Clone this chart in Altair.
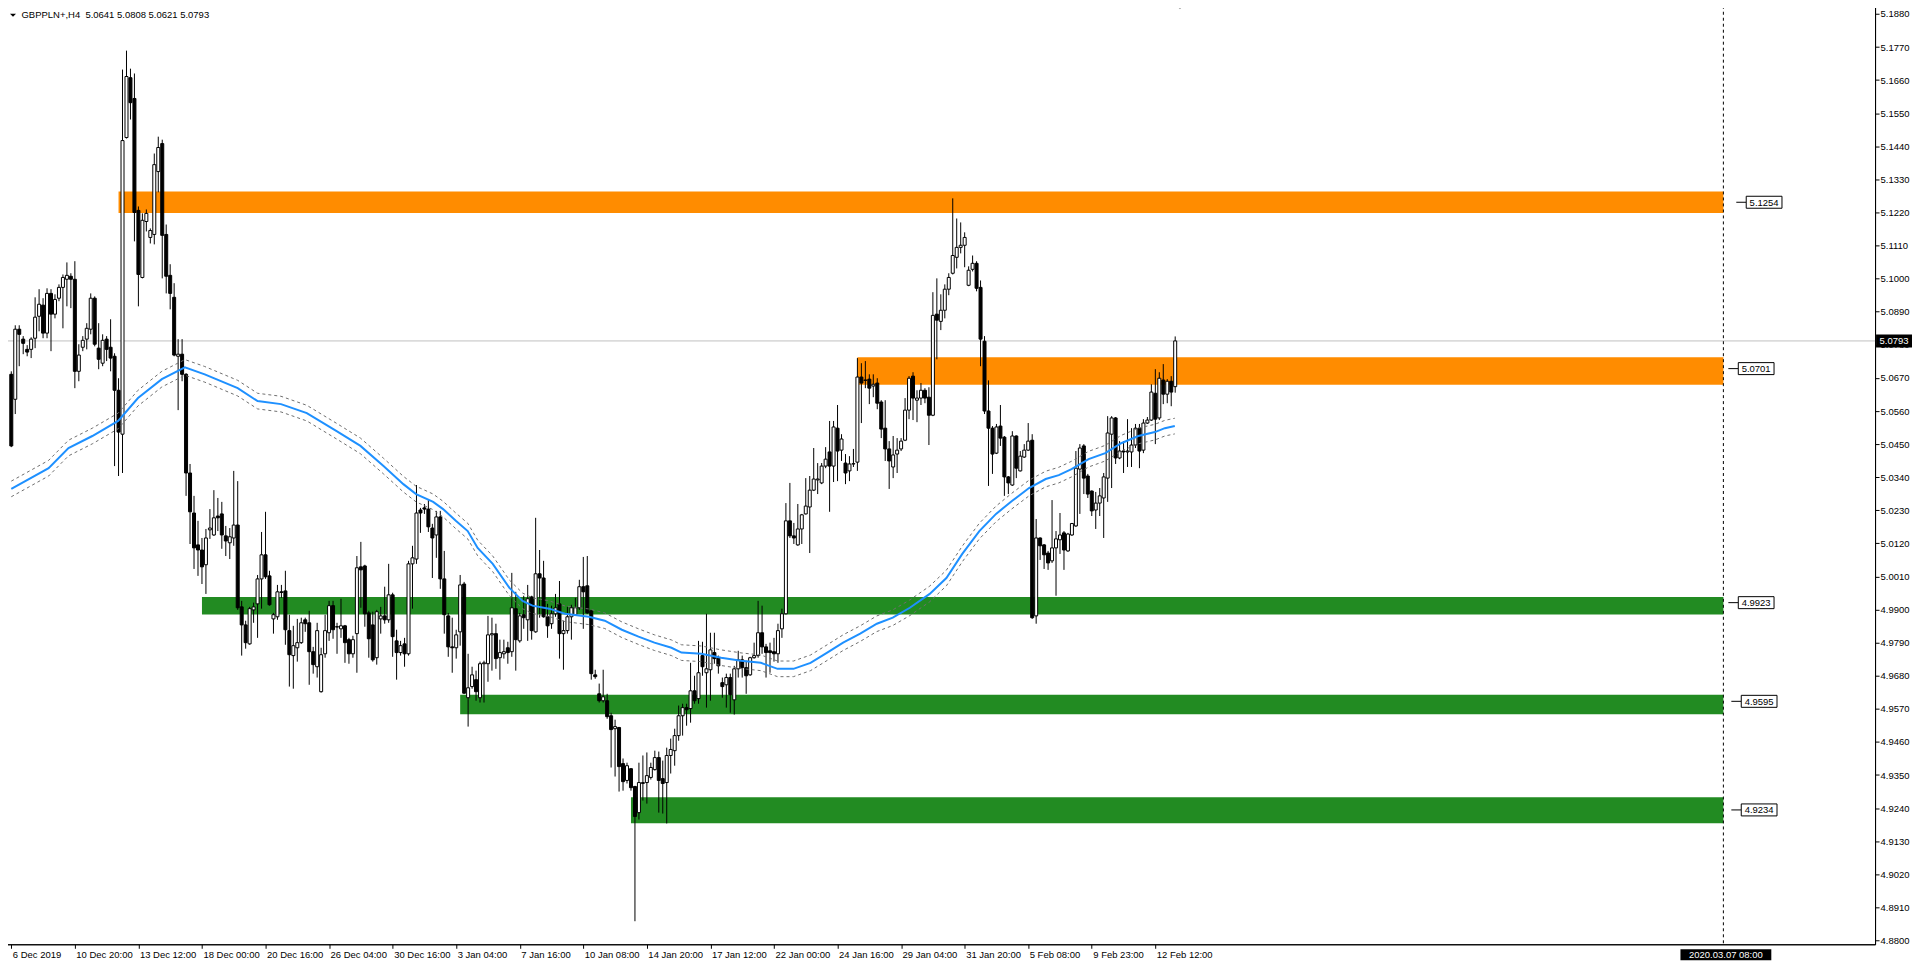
import altair as alt
import pandas as pd

# ---------------- data ----------------
symbol = "GBPPLN+,H4"

opens = [5.0682, 5.0599, 5.0832, 5.0799, 5.0765, 5.0765, 5.0802, 5.0875, 5.0912, 5.0819,
         5.0951, 5.0882, 5.0935, 5.0971, 5.0998, 5.1008, 5.0998, 5.0692, 5.0772, 5.0799,
         5.0832, 5.0935, 5.0769, 5.0719, 5.0799, 5.0772, 5.0742, 5.0629, 5.0483, 5.1469,
         5.1668, 5.1599, 5.1227, 5.1004, 5.1190, 5.1137, 5.1147, 5.1356, 5.1449, 5.1147,
         5.1011, 5.0938, 5.0742, 5.0749, 5.0682, 5.0354, 5.0221, 5.0115, 5.0098, 5.0049,
         5.0165, 5.0148, 5.0211, 5.0218, 5.0145, 5.0122, 5.0138, 5.0181, 4.9909, 4.9849,
         4.9786, 4.9899, 4.9919, 5.0002, 5.0082, 5.0012, 4.9869, 4.9876, 4.9959, 4.9962,
         4.9830, 4.9747, 4.9773, 4.9790, 4.9866, 4.9856, 4.9760, 4.9710, 4.9627, 4.9753,
         4.9823, 4.9913, 4.9843, 4.9836, 4.9846, 4.9800, 4.9753, 4.9820, 5.0042, 5.0045,
         4.9889, 4.9849, 4.9740, 4.9869, 4.9879, 4.9866, 4.9949, 4.9796, 4.9757, 4.9786,
         4.9753, 5.0052, 5.0068, 5.0231, 5.0238, 5.0234, 5.0171, 5.0148, 5.0208, 5.0002,
         4.9879, 4.9776, 4.9773, 4.9826, 4.9985, 4.9607, 4.9644, 4.9667, 4.9607, 4.9720,
         4.9720, 4.9816, 4.9820, 4.9740, 4.9753, 4.9773, 4.9760, 4.9903, 4.9796, 4.9883,
         4.9866, 4.9942, 4.9826, 5.0019, 5.0005, 4.9876, 4.9853, 4.9886, 4.9919, 4.9820,
         4.9830, 4.9876, 4.9883, 4.9906, 4.9976, 4.9979, 4.9896, 4.9683, 4.9620, 4.9597,
         4.9597, 4.9547, 4.9504, 4.9508, 4.9388, 4.9332, 4.9371, 4.9312, 4.9225, 4.9322,
         4.9325, 4.9342, 4.9368, 4.9408, 4.9338, 4.9325, 4.9415, 4.9431, 4.9481, 4.9547,
         4.9574, 4.9571, 4.9630, 4.9604, 4.9747, 4.9690, 4.9700, 4.9757, 4.9740, 4.9657,
         4.9650, 4.9674, 4.9600, 4.9703, 4.9733, 4.9707, 4.9683, 4.9740, 4.9747, 4.9823,
         4.9776, 4.9763, 4.9760, 4.9753, 4.9836, 4.9886, 5.0195, 5.0145, 5.0115, 5.0168,
         5.0218, 5.0241, 5.0297, 5.0331, 5.0321, 5.0377, 5.0424, 5.0377, 5.0503, 5.0430,
         5.0387, 5.0361, 5.0384, 5.0390, 5.0673, 5.0663, 5.0666, 5.0643, 5.0653, 5.0590,
         5.0503, 5.0434, 5.0374, 5.0417, 5.0434, 5.0463, 5.0563, 5.0676, 5.0596, 5.0603,
         5.0629, 5.0606, 5.0546, 5.0882, 5.0858, 5.0895, 5.0965, 5.1018, 5.1071, 5.1104,
         5.1111, 5.0978, 5.1031, 5.1051, 5.0971, 5.0792, 5.0560, 5.0503, 5.0420, 5.0510,
         5.0473, 5.0341, 5.0314, 5.0477, 5.0361, 5.0407, 5.0430, 5.0463, 4.9879, 5.0138,
         5.0115, 5.0088, 5.0062, 5.0105, 5.0132, 5.0155, 5.0095, 5.0148, 5.0178, 5.0367,
         5.0444, 5.0344, 5.0294, 5.0231, 5.0254, 5.0271, 5.0337, 5.0483, 5.0537, 5.0404,
         5.0427, 5.0424, 5.0424, 5.0447, 5.0503, 5.0430, 5.0520, 5.0530, 5.0619, 5.0537,
         5.0663, 5.0616, 5.0659, 5.0641]

highs = [5.0692, 5.0845, 5.0845, 5.0809, 5.0779, 5.0805, 5.0938, 5.0965, 5.0935, 5.0968,
         5.0965, 5.0948, 5.0981, 5.1014, 5.1054, 5.1018, 5.1058, 5.0782, 5.0809, 5.0852,
         5.0951, 5.0941, 5.0852, 5.0815, 5.0809, 5.0865, 5.0752, 5.0669, 5.1695, 5.1758,
         5.1698, 5.1682, 5.1240, 5.1217, 5.1230, 5.1167, 5.1416, 5.1472, 5.1462, 5.1180,
         5.1048, 5.0985, 5.0799, 5.0799, 5.0686, 5.0384, 5.0278, 5.0195, 5.0138, 5.0168,
         5.0234, 5.0297, 5.0271, 5.0258, 5.0178, 5.0171, 5.0361, 5.0327, 4.9929, 4.9863,
         4.9909, 4.9923, 5.0015, 5.0158, 5.0225, 5.0029, 4.9889, 4.9982, 4.9982, 5.0029,
         4.9883, 4.9846, 4.9869, 4.9873, 4.9873, 4.9896, 4.9776, 4.9856, 4.9773, 4.9883,
         4.9929, 4.9929, 4.9856, 4.9936, 4.9849, 4.9806, 4.9813, 5.0078, 5.0125, 5.0049,
         4.9896, 4.9893, 4.9899, 4.9909, 4.9976, 5.0052, 4.9956, 4.9833, 4.9796, 4.9806,
         5.0062, 5.0112, 5.0314, 5.0238, 5.0251, 5.0264, 5.0185, 5.0228, 5.0228, 5.0095,
         4.9889, 4.9873, 4.9833, 5.0015, 4.9992, 4.9753, 4.9710, 4.9697, 4.9727, 4.9730,
         4.9879, 4.9873, 4.9853, 4.9800, 4.9800, 4.9793, 5.0022, 4.9959, 4.9889, 4.9946,
         4.9982, 4.9946, 5.0205, 5.0098, 5.0062, 4.9919, 4.9913, 4.9952, 4.9995, 4.9863,
         4.9909, 4.9916, 4.9939, 4.9999, 5.0075, 5.0078, 4.9899, 4.9700, 4.9654, 4.9700,
         4.9620, 4.9557, 4.9534, 4.9510, 4.9405, 4.9391, 4.9373, 4.9314, 4.9391, 4.9415,
         4.9425, 4.9391, 4.9431, 4.9428, 4.9398, 4.9441, 4.9471, 4.9504, 4.9581, 4.9587,
         4.9587, 4.9723, 4.9680, 4.9796, 4.9793, 4.9886, 4.9823, 4.9823, 4.9747, 4.9674,
         4.9687, 4.9687, 4.9713, 4.9763, 4.9747, 4.9730, 4.9743, 4.9790, 4.9929, 4.9913,
         4.9786, 4.9790, 4.9806, 4.9853, 4.9903, 5.0254, 5.0321, 5.0188, 5.0251, 5.0218,
         5.0337, 5.0344, 5.0437, 5.0387, 5.0387, 5.0440, 5.0527, 5.0527, 5.0580, 5.0483,
         5.0417, 5.0410, 5.0434, 5.0736, 5.0719, 5.0726, 5.0682, 5.0682, 5.0669, 5.0596,
         5.0596, 5.0460, 5.0477, 5.0470, 5.0470, 5.0603, 5.0676, 5.0689, 5.0629, 5.0653,
         5.0636, 5.0639, 5.0955, 5.1001, 5.0948, 5.0981, 5.1018, 5.1267, 5.1200, 5.1187,
         5.1154, 5.1041, 5.1077, 5.1058, 5.0994, 5.0809, 5.0662, 5.0510, 5.0517, 5.0580,
         5.0477, 5.0344, 5.0493, 5.0479, 5.0427, 5.0450, 5.0520, 5.0483, 5.0201, 5.0140,
         5.0118, 5.0095, 5.0264, 5.0161, 5.0221, 5.0161, 5.0155, 5.0188, 5.0427, 5.0450,
         5.0450, 5.0351, 5.0296, 5.0291, 5.0304, 5.0354, 5.0543, 5.0543, 5.0540, 5.0460,
         5.0460, 5.0533, 5.0503, 5.0517, 5.0517, 5.0533, 5.0540, 5.0649, 5.0699, 5.0689,
         5.0716, 5.0666, 5.0676, 5.0808]

lows = [5.0440, 5.0550, 5.0709, 5.0749, 5.0742, 5.0736, 5.0769, 5.0825, 5.0802, 5.0802,
        5.0759, 5.0868, 5.0925, 5.0835, 5.0908, 5.0902, 5.0636, 5.0659, 5.0759, 5.0765,
        5.0815, 5.0775, 5.0699, 5.0709, 5.0726, 5.0692, 5.0377, 5.0344, 5.0354, 5.1466,
        5.1529, 5.1124, 5.0908, 5.1001, 5.1157, 5.1117, 5.1114, 5.1287, 5.1001, 5.0951,
        5.0898, 5.0742, 5.0563, 5.0659, 5.0278, 5.0118, 5.0035, 5.0012, 4.9985, 4.9952,
        5.0135, 5.0145, 5.0161, 5.0102, 5.0078, 5.0068, 5.0112, 4.9899, 4.9747, 4.9770,
        4.9783, 4.9856, 4.9806, 4.9903, 5.0002, 4.9913, 4.9820, 4.9866, 4.9939, 4.9783,
        4.9644, 4.9637, 4.9727, 4.9786, 4.9826, 4.9650, 4.9687, 4.9674, 4.9624, 4.9740,
        4.9796, 4.9803, 4.9753, 4.9806, 4.9723, 4.9720, 4.9740, 4.9690, 4.9906, 4.9843,
        4.9740, 4.9727, 4.9717, 4.9820, 4.9853, 4.9856, 4.9743, 4.9667, 4.9747, 4.9710,
        4.9747, 4.9903, 5.0052, 5.0155, 5.0218, 5.0158, 5.0005, 5.0072, 4.9969, 4.9820,
        4.9743, 4.9690, 4.9737, 4.9780, 4.9620, 4.9511, 4.9637, 4.9597, 4.9591, 4.9591,
        4.9660, 4.9697, 4.9703, 4.9667, 4.9737, 4.9720, 4.9743, 4.9697, 4.9790, 4.9836,
        4.9796, 4.9800, 4.9823, 4.9873, 4.9873, 4.9806, 4.9836, 4.9876, 4.9737, 4.9700,
        4.9820, 4.9800, 4.9879, 4.9899, 4.9836, 4.9886, 4.9667, 4.9670, 4.9591, 4.9591,
        4.9537, 4.9375, 4.9345, 4.9295, 4.9298, 4.9322, 4.9298, 4.8864, 4.9202, 4.9265,
        4.9255, 4.9335, 4.9365, 4.9225, 4.9222, 4.9189, 4.9355, 4.9381, 4.9464, 4.9481,
        4.9514, 4.9524, 4.9587, 4.9587, 4.9680, 4.9574, 4.9597, 4.9720, 4.9687, 4.9607,
        4.9574, 4.9557, 4.9551, 4.9674, 4.9674, 4.9620, 4.9680, 4.9737, 4.9740, 4.9753,
        4.9674, 4.9690, 4.9727, 4.9723, 4.9806, 4.9884, 5.0138, 5.0118, 5.0112, 5.0118,
        5.0216, 5.0088, 5.0294, 5.0284, 5.0317, 5.0370, 5.0225, 5.0324, 5.0327, 5.0394,
        5.0317, 5.0327, 5.0374, 5.0361, 5.0520, 5.0636, 5.0583, 5.0606, 5.0566, 5.0470,
        5.0394, 5.0301, 5.0337, 5.0354, 5.0427, 5.0460, 5.0533, 5.0530, 5.0523, 5.0580,
        5.0586, 5.0447, 5.0543, 5.0732, 5.0829, 5.0868, 5.0945, 5.1014, 5.1034, 5.1084,
        5.1038, 5.0975, 5.1024, 5.0958, 5.0709, 5.0550, 5.0311, 5.0351, 5.0417, 5.0444,
        5.0278, 5.0284, 5.0311, 5.0337, 5.0359, 5.0404, 5.0427, 4.9869, 4.9853, 5.0065,
        5.0035, 5.0032, 5.0055, 4.9946, 5.0085, 5.0032, 5.0092, 5.0145, 5.0175, 5.0218,
        5.0284, 5.0271, 5.0211, 5.0168, 5.0211, 5.0138, 5.0258, 5.0304, 5.0384, 5.0400,
        5.0354, 5.0374, 5.0374, 5.0437, 5.0370, 5.0420, 5.0517, 5.0527, 5.0450, 5.0530,
        5.0583, 5.0586, 5.0576, 5.0621]

closes = [5.0444, 5.0832, 5.0815, 5.0785, 5.0756, 5.0799, 5.0872, 5.0915, 5.0819, 5.0951,
          5.0882, 5.0931, 5.0971, 5.1004, 5.1011, 5.0998, 5.0692, 5.0746, 5.0795, 5.0835,
          5.0935, 5.0782, 5.0732, 5.0795, 5.0765, 5.0736, 5.0629, 5.0490, 5.1459, 5.1672,
          5.1585, 5.1220, 5.1014, 5.1194, 5.1217, 5.1160, 5.1379, 5.1436, 5.1144, 5.1008,
          5.0951, 5.0746, 5.0749, 5.0682, 5.0354, 5.0225, 5.0105, 5.0098, 5.0042, 5.0138,
          5.0171, 5.0205, 5.0205, 5.0148, 5.0128, 5.0142, 5.0181, 4.9906, 4.9849, 4.9790,
          4.9903, 4.9909, 5.0002, 5.0082, 5.0009, 4.9916, 4.9883, 4.9959, 4.9957, 4.9833,
          4.9750, 4.9780, 4.9790, 4.9856, 4.9853, 4.9760, 4.9717, 4.9830, 4.9750, 4.9830,
          4.9913, 4.9833, 4.9842, 4.9846, 4.9790, 4.9753, 4.9800, 5.0039, 5.0032, 4.9886,
          4.9803, 4.9733, 4.9893, 4.9879, 4.9866, 4.9949, 4.9810, 4.9757, 4.9780, 4.9753,
          5.0052, 5.0072, 5.0221, 5.0221, 5.0234, 5.0175, 5.0138, 5.0208, 5.0002, 4.9883,
          4.9776, 4.9773, 4.9816, 4.9982, 4.9622, 4.9640, 4.9683, 4.9627, 4.9720, 4.9723,
          4.9816, 4.9820, 4.9737, 4.9757, 4.9760, 4.9757, 4.9906, 4.9800, 4.9879, 4.9873,
          4.9936, 4.9830, 5.0019, 5.0005, 4.9876, 4.9846, 4.9886, 4.9906, 4.9820, 4.9830,
          4.9876, 4.9906, 4.9906, 4.9976, 4.9959, 4.9889, 4.9687, 4.9677, 4.9597, 4.9610,
          4.9544, 4.9501, 4.9511, 4.9378, 4.9328, 4.9381, 4.9308, 4.9212, 4.9325, 4.9325,
          4.9348, 4.9375, 4.9408, 4.9332, 4.9322, 4.9415, 4.9435, 4.9481, 4.9547, 4.9574,
          4.9567, 4.9630, 4.9597, 4.9690, 4.9710, 4.9703, 4.9766, 4.9737, 4.9713, 4.9644,
          4.9674, 4.9617, 4.9703, 4.9733, 4.9707, 4.9680, 4.9740, 4.9747, 4.9823, 4.9776,
          4.9757, 4.9757, 4.9753, 4.9830, 4.9886, 5.0195, 5.0145, 5.0138, 5.0168, 5.0215,
          5.0244, 5.0297, 5.0334, 5.0334, 5.0377, 5.0400, 5.0377, 5.0507, 5.0427, 5.0467,
          5.0354, 5.0384, 5.0385, 5.0673, 5.0653, 5.0662, 5.0636, 5.0649, 5.0586, 5.0500,
          5.0434, 5.0394, 5.0414, 5.0430, 5.0460, 5.0563, 5.0669, 5.0603, 5.0603, 5.0629,
          5.0603, 5.0546, 5.0878, 5.0862, 5.0895, 5.0965, 5.1004, 5.1077, 5.1104, 5.1111,
          5.1137, 5.1028, 5.1051, 5.0968, 5.0799, 5.0560, 5.0503, 5.0417, 5.0507, 5.0470,
          5.0341, 5.0321, 5.0477, 5.0370, 5.0410, 5.0430, 5.0460, 4.9873, 5.0138, 5.0112,
          5.0082, 5.0055, 5.0105, 5.0135, 5.0148, 5.0098, 5.0151, 5.0186, 5.0370, 5.0437,
          5.0337, 5.0284, 5.0228, 5.0254, 5.0278, 5.0341, 5.0487, 5.0537, 5.0404, 5.0427,
          5.0424, 5.0427, 5.0447, 5.0503, 5.0427, 5.0520, 5.0530, 5.0623, 5.0533, 5.0669,
          5.0616, 5.0659, 5.0623, 5.0793]

# moving average (blue) read at bar positions, with its dashed envelope
ma_bar = [0, 9.4, 14.4, 20.4, 26.9, 31.9, 37.9, 43.7, 48.7, 57.0, 62.0, 67.9, 74.4, 81.9,
          87.9, 93.7, 98.7, 101.9, 106.2, 108.7, 111.9, 114.9, 117.4, 121.2, 125.4, 128.7,
          131.2, 135.4, 139.4, 145.4, 149.4, 153.7, 157.9, 161.9, 166.2, 168.7, 173.7, 178.7,
          183.7, 188.7, 192.9, 196.9, 201.2, 205.4, 209.4, 213.7, 217.9, 221.9, 226.2, 231.2,
          235.4, 239.4, 243.7, 247.9, 251.9, 256.2, 260.4, 263.7, 266.9, 271.2, 275.4, 279.4,
          283.7, 287.9, 290.4, 292.9]
ma_val = [5.0301, 5.0370, 5.0437, 5.0477, 5.0527, 5.0603, 5.0666, 5.0705, 5.0682, 5.0636,
          5.0593, 5.0583, 5.0553, 5.0493, 5.0444, 5.0377, 5.0317, 5.0284, 5.0258, 5.0234,
          5.0195, 5.0161, 5.0105, 5.0052, 4.9972, 4.9929, 4.9913, 4.9903, 4.9886, 4.9876,
          4.9863, 4.9833, 4.9810, 4.9790, 4.9773, 4.9757, 4.9753, 4.9740, 4.9730, 4.9723,
          4.9703, 4.9703, 4.9723, 4.9757, 4.9790, 4.9820, 4.9853, 4.9873, 4.9906, 4.9952,
          5.0005, 5.0085, 5.0161, 5.0218, 5.0261, 5.0304, 5.0334, 5.0347, 5.0367, 5.0400,
          5.0420, 5.0453, 5.0477, 5.0490, 5.0503, 5.0510]
env_upper = [5.0327, 5.0396, 5.0463, 5.0503, 5.0553, 5.0629, 5.0692, 5.0731, 5.0708, 5.0662,
             5.0619, 5.0609, 5.0579, 5.0519, 5.0470, 5.0403, 5.0343, 5.0310, 5.0284, 5.0260,
             5.0221, 5.0187, 5.0131, 5.0078, 4.9998, 4.9955, 4.9939, 4.9929, 4.9912, 4.9902,
             4.9889, 4.9859, 4.9836, 4.9816, 4.9799, 4.9783, 4.9779, 4.9766, 4.9756, 4.9749,
             4.9729, 4.9729, 4.9749, 4.9783, 4.9816, 4.9846, 4.9879, 4.9899, 4.9932, 4.9978,
             5.0031, 5.0111, 5.0187, 5.0244, 5.0287, 5.0330, 5.0360, 5.0373, 5.0393, 5.0426,
             5.0446, 5.0479, 5.0503, 5.0516, 5.0529, 5.0536]
env_lower = [5.0275, 5.0344, 5.0411, 5.0451, 5.0501, 5.0577, 5.0640, 5.0679, 5.0656, 5.0610,
             5.0567, 5.0557, 5.0527, 5.0467, 5.0418, 5.0351, 5.0291, 5.0258, 5.0232, 5.0208,
             5.0169, 5.0135, 5.0079, 5.0026, 4.9946, 4.9903, 4.9887, 4.9877, 4.9860, 4.9850,
             4.9837, 4.9807, 4.9784, 4.9764, 4.9747, 4.9731, 4.9727, 4.9714, 4.9704, 4.9697,
             4.9677, 4.9677, 4.9697, 4.9731, 4.9764, 4.9794, 4.9827, 4.9847, 4.9880, 4.9926,
             4.9979, 5.0059, 5.0135, 5.0192, 5.0235, 5.0278, 5.0308, 5.0321, 5.0341, 5.0374,
             5.0394, 5.0427, 5.0451, 5.0464, 5.0477, 5.0484]

# support / resistance zones
zone_start = [27, 213, 48, 113, 156]
zone_end = [431, 431, 431, 431, 431]
zone_low = [5.1218, 5.0647, 4.9884, 4.9552, 4.9190]
zone_high = [5.1290, 5.0739, 4.9942, 4.9617, 4.9276]
zone_kind = ["resistance", "resistance", "support", "support", "support"]
zone_level = [5.1254, 5.0701, 4.9923, 4.9595, 4.9234]
zone_text = ["5.1254", "5.0701", "4.9923", "4.9595", "4.9234"]

bid = 5.0793
bid_text = "5.0793"
shift_bar = 431
shift_text = "2020.03.07 08:00"

time_ticks = [0, 16, 32, 48, 64, 80, 96, 112, 128, 144, 160, 176, 192, 208, 224, 240, 256, 272, 288]
time_labels = ["6 Dec 2019", "10 Dec 20:00", "13 Dec 12:00", "18 Dec 00:00", "20 Dec 16:00",
               "26 Dec 04:00", "30 Dec 16:00", "3 Jan 04:00", "7 Jan 16:00", "10 Jan 08:00",
               "14 Jan 20:00", "17 Jan 12:00", "22 Jan 00:00", "24 Jan 16:00", "29 Jan 04:00",
               "31 Jan 20:00", "5 Feb 08:00", "9 Feb 23:00", "12 Feb 12:00"]
# price scale labels (the 5.0780 label sits under the bid-price box, as in the reference)
price_ticks = [4.880, 4.891, 4.902, 4.913, 4.924, 4.935, 4.946, 4.957, 4.968, 4.979,
               4.990, 5.001, 5.012, 5.023, 5.034, 5.045, 5.056, 5.067, 5.078, 5.089,
               5.100, 5.111, 5.122, 5.133, 5.144, 5.155, 5.166, 5.177, 5.188]

# ---------------- layout / style ----------------
W, H = 1873, 940
X_DOMAIN = [-0.325, 467.925]
Y_DOMAIN = [4.87874, 5.19072]
PX_PER_BAR = W / (X_DOMAIN[1] - X_DOMAIN[0])
FONT = "Liberation Sans"
FS = 9.5
ZONE_COLORS = {"resistance": "#FF8C00", "support": "#228B22"}
LABEL_LEAD_PX = [13, 5, 5, 8, 8]
LABEL_BOX_PX = [23, 15, 15, 18, 18]
LABEL_BOX_W = 36

xs = alt.Scale(domain=X_DOMAIN, nice=False, zero=False)
ys = alt.Scale(domain=Y_DOMAIN, nice=False, zero=False)

label_expr = ("[" + ",".join("'" + s + "'" for s in time_labels) + "][indexof(["
              + ",".join(str(t) for t in time_ticks) + "], datum.value)]")

x_axis = alt.Axis(values=time_ticks, labelExpr=label_expr, orient="bottom", title=None,
                  grid=False, tickSize=4, tickColor="black", domainColor="black",
                  labelAlign="left", labelBaseline="top", labelPadding=1, labelOffset=1,
                  labelFont=FONT, labelFontSize=FS, labelColor="black",
                  labelFlush=False, labelOverlap=False)
y_axis = alt.Axis(values=price_ticks, format=".4f", orient="right", title=None, grid=False,
                  tickSize=4, tickColor="black", domainColor="black", labelAlign="left",
                  labelBaseline="middle", labelPadding=1, labelFont=FONT, labelFontSize=FS,
                  labelColor="black", labelFlush=False, labelOverlap=False)


def X(field):
    return alt.X(field, scale=xs, axis=x_axis)


def Y(field):
    return alt.Y(field, scale=ys, axis=y_axis)


n = len(closes)
candles = pd.DataFrame({"i": list(range(n)), "o": opens, "h": highs, "l": lows, "c": closes})
candles["fill"] = ["#FFFFFF" if c >= o else "#000000" for o, c in zip(opens, closes)]

zones = pd.DataFrame({"s": zone_start, "e": zone_end, "lo": zone_low, "hi": zone_high,
                      "col": [ZONE_COLORS[k] for k in zone_kind]})
labels = pd.DataFrame({
    "v": zone_level, "t": zone_text,
    "a": [e + d / PX_PER_BAR for e, d in zip(zone_end, LABEL_LEAD_PX)],
    "b": [e + d / PX_PER_BAR for e, d in zip(zone_end, LABEL_BOX_PX)],
    "b2": [e + (d + LABEL_BOX_W) / PX_PER_BAR for e, d in zip(zone_end, LABEL_BOX_PX)],
    "bc": [e + (d + LABEL_BOX_W / 2) / PX_PER_BAR for e, d in zip(zone_end, LABEL_BOX_PX)],
})
ma = pd.DataFrame({"i": ma_bar, "m": ma_val, "u": env_upper, "d": env_lower})

zone_layer = alt.Chart(zones).mark_rect().encode(
    x=X("s:Q"), x2="e:Q", y=Y("lo:Q"), y2="hi:Q", fill=alt.Fill("col:N", scale=None))

bid_line = alt.Chart(pd.DataFrame({"p": [bid]})).mark_rule(color="#C0C0C0", strokeWidth=1).encode(
    y=Y("p:Q"))

wicks = alt.Chart(candles).mark_rule(color="black", strokeWidth=1).encode(
    x=X("i:Q"), y=Y("l:Q"), y2="h:Q")

bodies = alt.Chart(candles).mark_bar(size=3, stroke="black", strokeWidth=1).encode(
    x=X("i:Q"), y=Y("o:Q"), y2="c:Q", fill=alt.Fill("fill:N", scale=None))

env_up = alt.Chart(ma).mark_line(color="#6E6E6E", strokeWidth=1, strokeDash=[3, 3]).encode(
    x=X("i:Q"), y=Y("u:Q"))
env_dn = alt.Chart(ma).mark_line(color="#6E6E6E", strokeWidth=1, strokeDash=[3, 3]).encode(
    x=X("i:Q"), y=Y("d:Q"))
ma_line = alt.Chart(ma).mark_line(color="#1E90FF", strokeWidth=2).encode(
    x=X("i:Q"), y=Y("m:Q"))

shift_df = pd.DataFrame({"s": [shift_bar], "t": [shift_text]})
shift_line = alt.Chart(shift_df).mark_rule(color="black", strokeWidth=1, strokeDash=[3, 3]).encode(
    x=X("s:Q"))

lead = alt.Chart(labels).mark_rule(color="black", strokeWidth=1).encode(
    x=X("a:Q"), x2="b:Q", y=Y("v:Q"))
box = alt.Chart(labels).mark_rect(fill="white", stroke="black", strokeWidth=1,
                                  yOffset=-6, y2Offset=6).encode(
    x=X("b:Q"), x2="b2:Q", y=Y("v:Q"), y2="v:Q")
box_text = alt.Chart(labels).mark_text(font=FONT, fontSize=FS, color="black",
                                       align="center", baseline="middle", dy=0.5).encode(
    x=X("bc:Q"), y=Y("v:Q"), text="t:N")

bid_df = pd.DataFrame({"p": [bid], "t": [bid_text]})
bid_box = alt.Chart(bid_df).mark_rect(fill="black", yOffset=-6.5, y2Offset=6.5).encode(
    x=alt.value(W + 1), x2=alt.value(W + 37), y=Y("p:Q"), y2="p:Q")
bid_label = alt.Chart(bid_df).mark_text(font=FONT, fontSize=FS, color="white",
                                        align="center", baseline="middle", dy=0.5).encode(
    x=alt.value(W + 19), y=Y("p:Q"), text="t:N")

shift_box = alt.Chart(shift_df).mark_rect(fill="black", xOffset=-43, x2Offset=48).encode(
    x=X("s:Q"), x2="s:Q", y=alt.value(H + 5), y2=alt.value(H + 16))
shift_label = alt.Chart(shift_df).mark_text(font=FONT, fontSize=FS, color="white",
                                            align="center", baseline="middle", dx=2.5).encode(
    x=X("s:Q"), y=alt.value(H + 10.5), text="t:N")

head = "\u00a0\u00a0".join([symbol, " ".join(f"{v:.4f}" for v in (opens[-1], highs[-1], lows[-1], closes[-1]))])
title_df = pd.DataFrame({"t": [head]})
title_text = alt.Chart(title_df).mark_text(font=FONT, fontSize=FS, color="black",
                                           align="left", baseline="middle").encode(
    x=alt.value(16.5), y=alt.value(9), text="t:N")
title_tri = alt.Chart(title_df).mark_point(shape="M-1,-0.5L1,-0.5L0,0.5Z", size=36,
                                           filled=True, color="black", opacity=1).encode(
    x=alt.value(8), y=alt.value(9.5))
shift_tri = alt.Chart(pd.DataFrame({"s": [n + 0.2]})).mark_point(
    shape="M-1,-0.5L1,-0.5L0,0.5Z", size=64, filled=True, color="#A0A0A0", opacity=1).encode(
    x=X("s:Q"), y=alt.value(1.5))

chart = alt.layer(
    zone_layer, bid_line, wicks, bodies, env_up, env_dn, ma_line, shift_line,
    lead, box, box_text, bid_box, bid_label, shift_box, shift_label,
    title_text, title_tri, shift_tri,
).properties(
    width=W, height=H, background="white",
    padding={"left": -4, "top": -4, "right": 0, "bottom": 0},
).configure_view(stroke="black", strokeWidth=1)

chart.save("out.html", embed_options={"renderer": "svg", "actions": False})
